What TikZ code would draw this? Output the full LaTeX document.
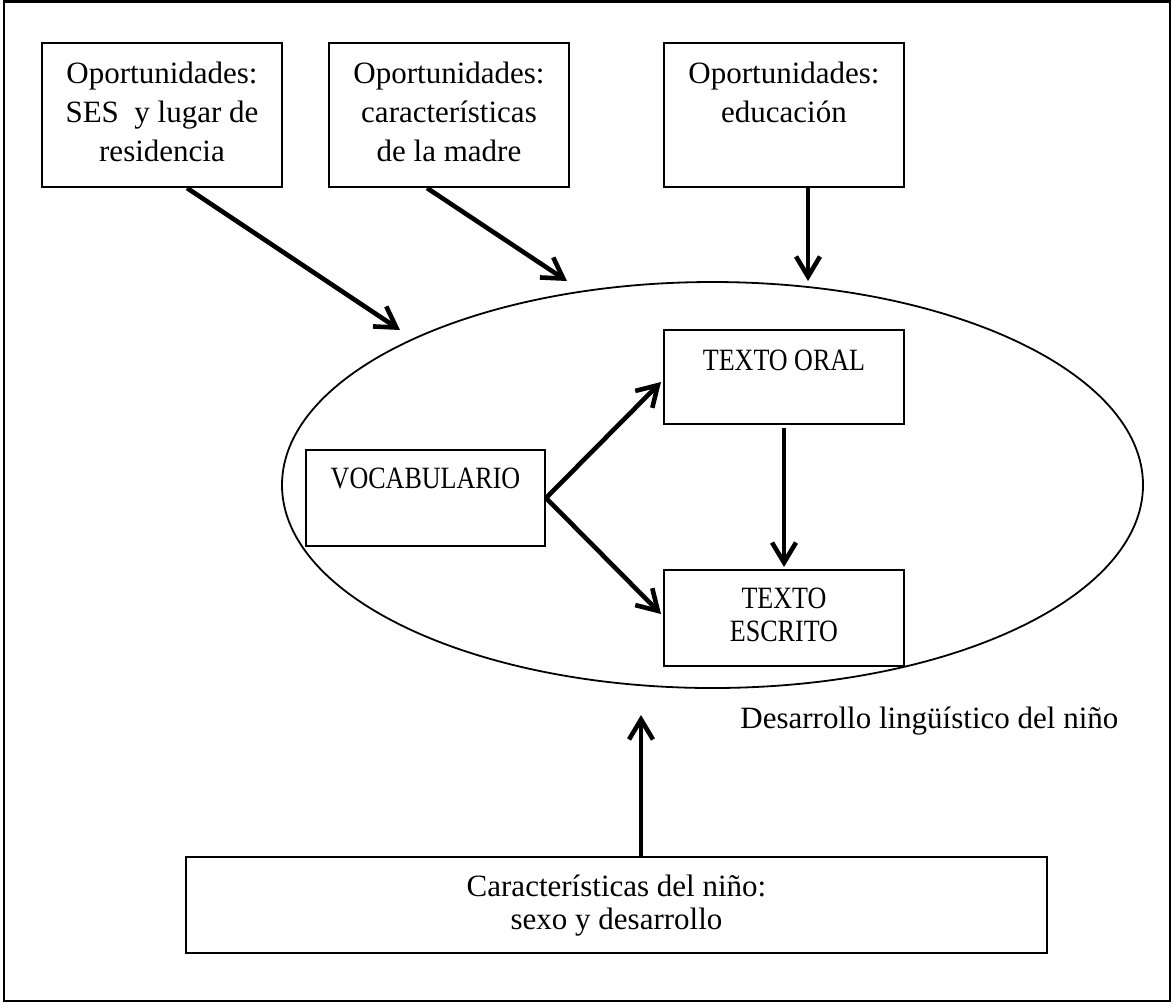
\documentclass[tikz,border=0pt]{standalone}
\usepackage{fontspec}
\setmainfont{Liberation Serif}
\newfontfamily\capsfont[FakeStretch=0.84]{Liberation Serif}
\usetikzlibrary{arrows.meta,calc,shapes.geometric}
\begin{document}
\begin{tikzpicture}[x=0.5pt,y=-0.5pt,
  box/.style={draw, line width=1pt, inner sep=0pt, minimum width=120pt, minimum height=48pt},
  txt/.style={align=center, font=\fontsize{15.5}{19.5}\selectfont, inner sep=0pt},
  txtb/.style={align=center, font=\fontsize{15.5}{16.5}\selectfont, inner sep=0pt},
  txtc/.style={align=center, font=\capsfont\fontsize{15.5}{16.5}\selectfont, inner sep=0pt},
  arr/.style={line width=2.3pt, -{Straight Barb[length=10pt,width=12pt]}},
]
\useasboundingbox (0,0) rectangle (1172,1003);
\draw[line width=1.3pt] (4,1.5) rectangle (1170,1001);

% top boxes
\node[box, minimum height=72pt] (b1) at (162,115) {};
\node[txt] (b1t) at (162,111.5) {Oportunidades:\\SES~ y lugar de\\residencia};
\node[box, minimum height=72pt] (b2) at (449,115) {};
\node[txt] (b2t) at (449,111.5) {Oportunidades:\\características\\de la madre};
\node[box, minimum height=72pt] (b3) at (784,115) {};
\node[txt] (b3t) at (784,92) {Oportunidades:\\educación};

% ellipse
\node[draw, ellipse, line width=0.9pt, inner sep=0pt, minimum width=430.5pt, minimum height=203pt] (dev) at (712.5,485) {};

% inner boxes
\node[box, minimum width=119.5pt] (voc) at (425.5,498) {};
\node[txtc] (voct) at (425.5,478) {VOCABULARIO};
\node[box, minimum height=47pt] (oral) at (784,377) {};
\node[txtc] (oralt) at (784,360) {TEXTO ORAL};
\node[box] (escr) at (784,618) {};
\node[txtc] (escrt) at (784,615) {TEXTO\\ESCRITO};

% label
\node[txt, anchor=base west] (devl) at (740,728) {Desarrollo lingüístico del niño};

% bottom box
\node[box, minimum width=430.5pt] (b4) at (616.5,905) {};
\node[txtb] (b4t) at (616.5,906) {Características del niño:\\sexo y desarrollo};

% arrow end points
\coordinate (t1) at (400,330);
\coordinate (t2) at (567,281);
\coordinate (t3) at (808,281);
\coordinate (t7) at (641,715);

\draw[arr] ($(b1.south)+(25,0)$) -- (t1);
\draw[arr] ($(b2.south)+(-22,0)$) -- (t2);
\draw[arr] ($(b3.south)+(24,0)$) -- (t3);
\draw[arr] (voc.east) -- ($(oral.west)+(-2,5)$);
\draw[arr] (voc.east) -- ($(escr.west)+(-2,-4)$);
\draw[arr] ($(oral.south)+(0,3)$) -- ($(escr.north)+(0,-2)$);
\draw[arr] ($(b4.north)+(24.5,0)$) -- (t7);
\end{tikzpicture}
\end{document}
